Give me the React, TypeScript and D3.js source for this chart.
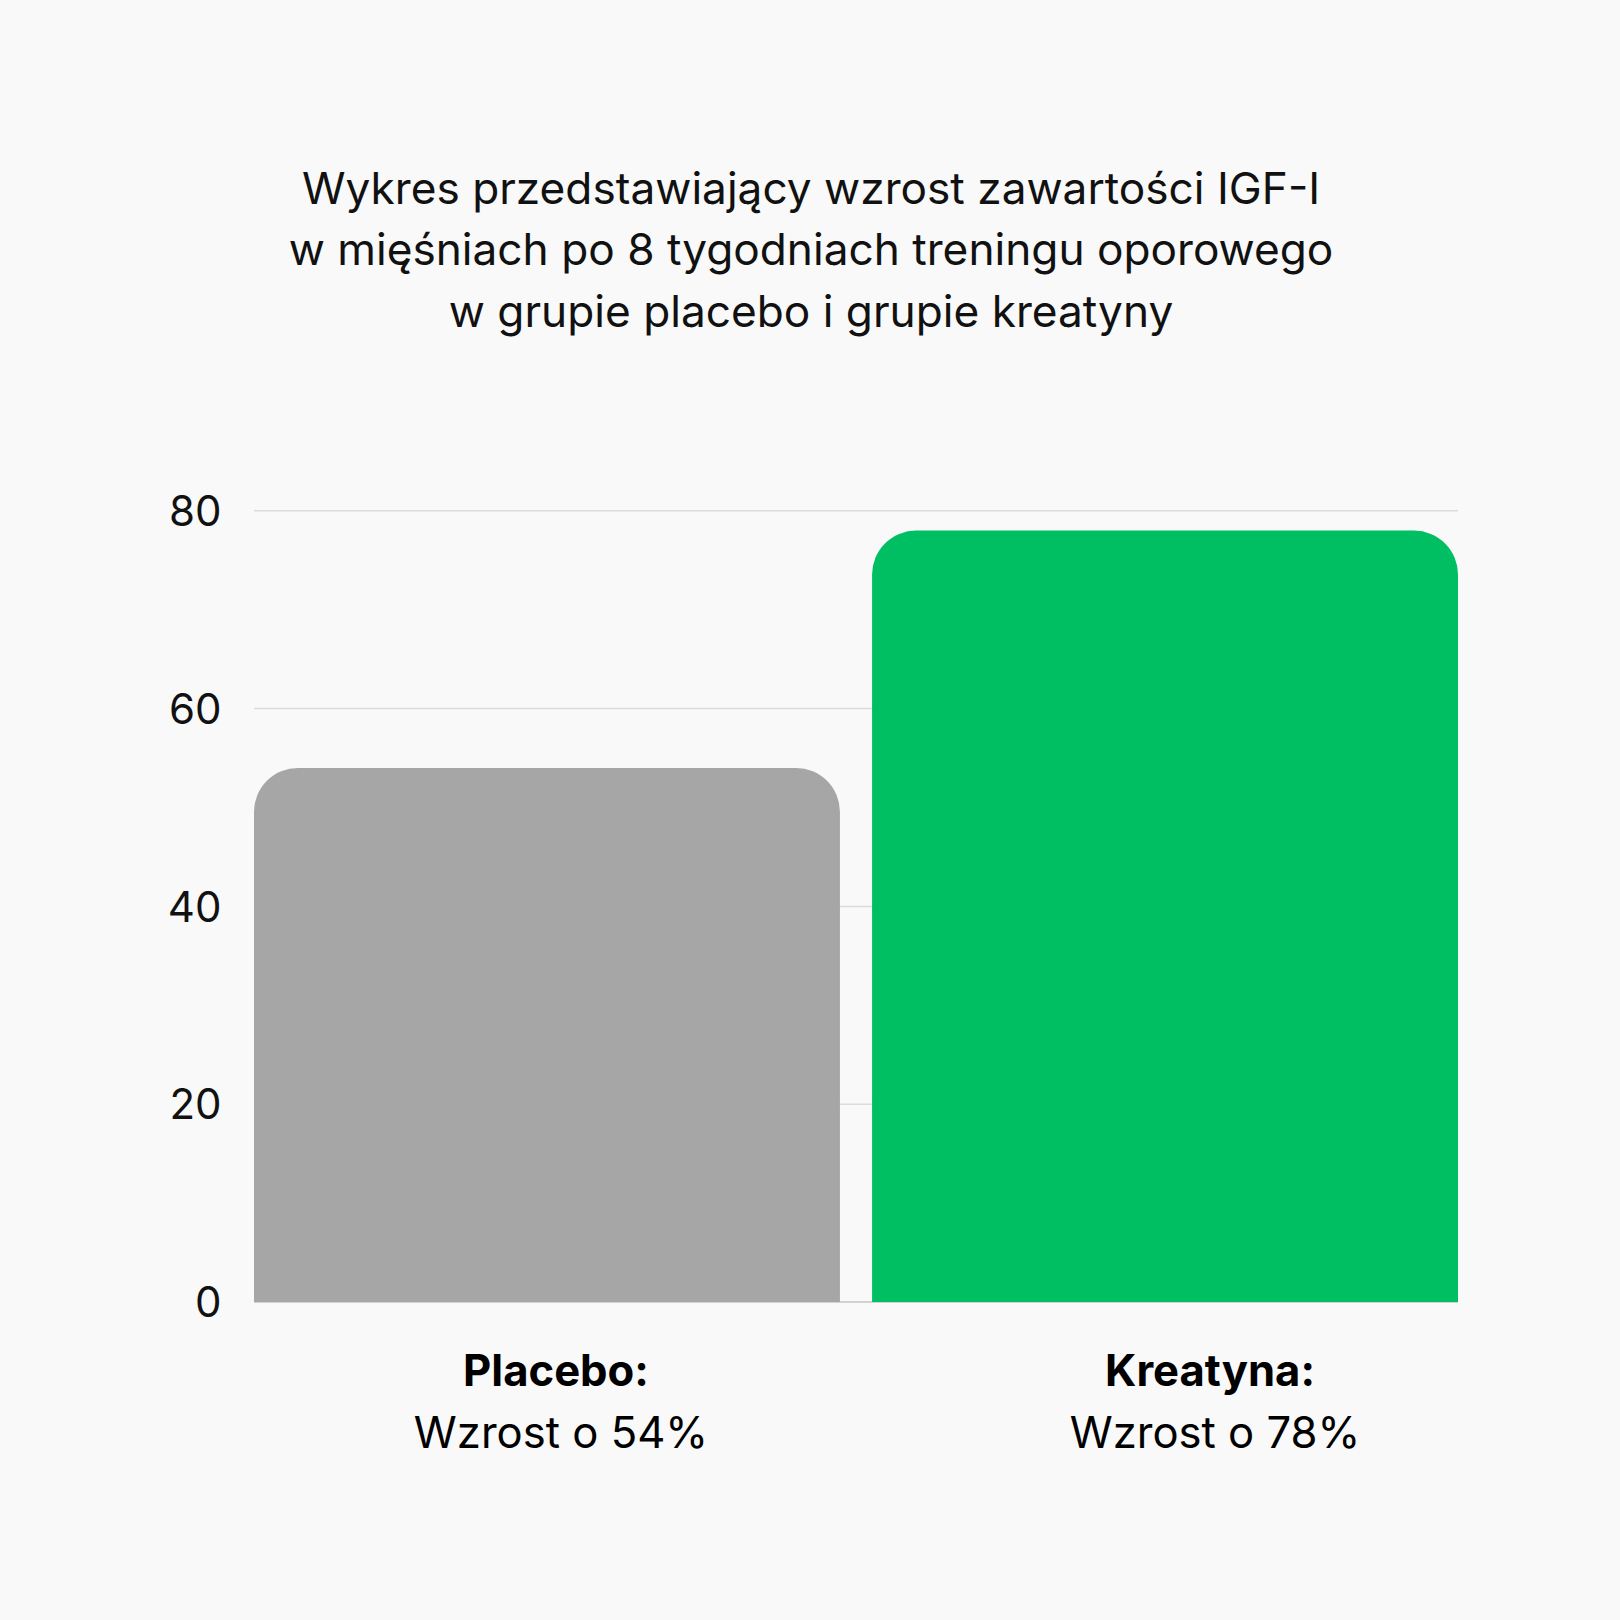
import React from "react";
import * as d3 from "d3";

const categories = ["Placebo:", "Kreatyna:"];
const values = [54, 78];
const subLabels = ["Wzrost o 54%", "Wzrost o 78%"];
const barColors = ["#a6a6a6", "#00bf63"];
const yTicks = [0, 20, 40, 60, 80];
const titleLines = [
  "Wykres przedstawiający wzrost zawartości IGF-I",
  "w mięśniach po 8 tygodniach treningu oporowego",
  "w grupie placebo i grupie kreatyny",
];

const W = 1620;
const H = 1620;
const FONT = "Inter, 'Noto Sans', sans-serif";

function topRoundedBar(x: number, y: number, w: number, h: number, r: number) {
  const rr = Math.min(r, w / 2, h);
  const p = d3.path();
  p.moveTo(x, y + h);
  p.lineTo(x, y + rr);
  p.arcTo(x, y, x + rr, y, rr);
  p.lineTo(x + w - rr, y);
  p.arcTo(x + w, y, x + w, y + rr, rr);
  p.lineTo(x + w, y + h);
  p.closePath();
  return p.toString();
}

export default function App() {
  const x = d3.scaleBand<string>().domain(categories).range([254, 1458]).paddingInner(0.052).paddingOuter(0);
  const y = d3.scaleLinear().domain([0, 80]).range([1302, 510.8]);
  const labelX = d3.scalePoint<string>().domain(categories).range([558, 1212]);

  return (
    <svg
      width={W}
      height={H}
      viewBox={`0 0 ${W} ${H}`}
      style={{ position: "absolute", left: 0, top: 0, background: "#f9f9f9" }}
    >
      <rect x={0} y={0} width={W} height={H} fill="#f9f9f9" />
      {titleLines.map((t, i) => (
        <text
          key={i}
          x={811}
          y={203.5 + i * 61.7}
          textAnchor="middle"
          fontFamily={FONT}
          fontSize={44.2}
          fill="#111"
        >
          {t}
        </text>
      ))}
      {yTicks.map((t) => (
        <g key={t}>
          {t > 0 && (
            <line x1={254} x2={1458} y1={y(t)} y2={y(t)} stroke="#dcdcdc" strokeWidth={1.5} />
          )}
          <text
            x={221.5}
            y={y(t)}
            dy="0.36em"
            textAnchor="end"
            fontFamily={FONT}
            fontSize={42}
            fill="#111"
          >
            {t}
          </text>
        </g>
      ))}
      <line x1={254} x2={1458} y1={y(0)} y2={y(0)} stroke="#c4c4c4" strokeWidth={1.5} />
      {categories.map((c, i) => (
        <path
          key={c}
          d={topRoundedBar(x(c)!, y(values[i]), x.bandwidth(), y(0) - y(values[i]), 44)}
          fill={barColors[i]}
        />
      ))}
      {categories.map((c, i) => (
        <g key={c}>
          <text
            x={labelX(c)! - 2}
            y={1386}
            textAnchor="middle"
            fontFamily={FONT}
            fontSize={43.6}
            fontWeight={700}
            fill="#000"
          >
            {c}
          </text>
          <text
            x={labelX(c)! + 3}
            y={1447.5}
            textAnchor="middle"
            fontFamily={FONT}
            fontSize={43.6}
            fill="#000"
          >
            {subLabels[i]}
          </text>
        </g>
      ))}
    </svg>
  );
}
